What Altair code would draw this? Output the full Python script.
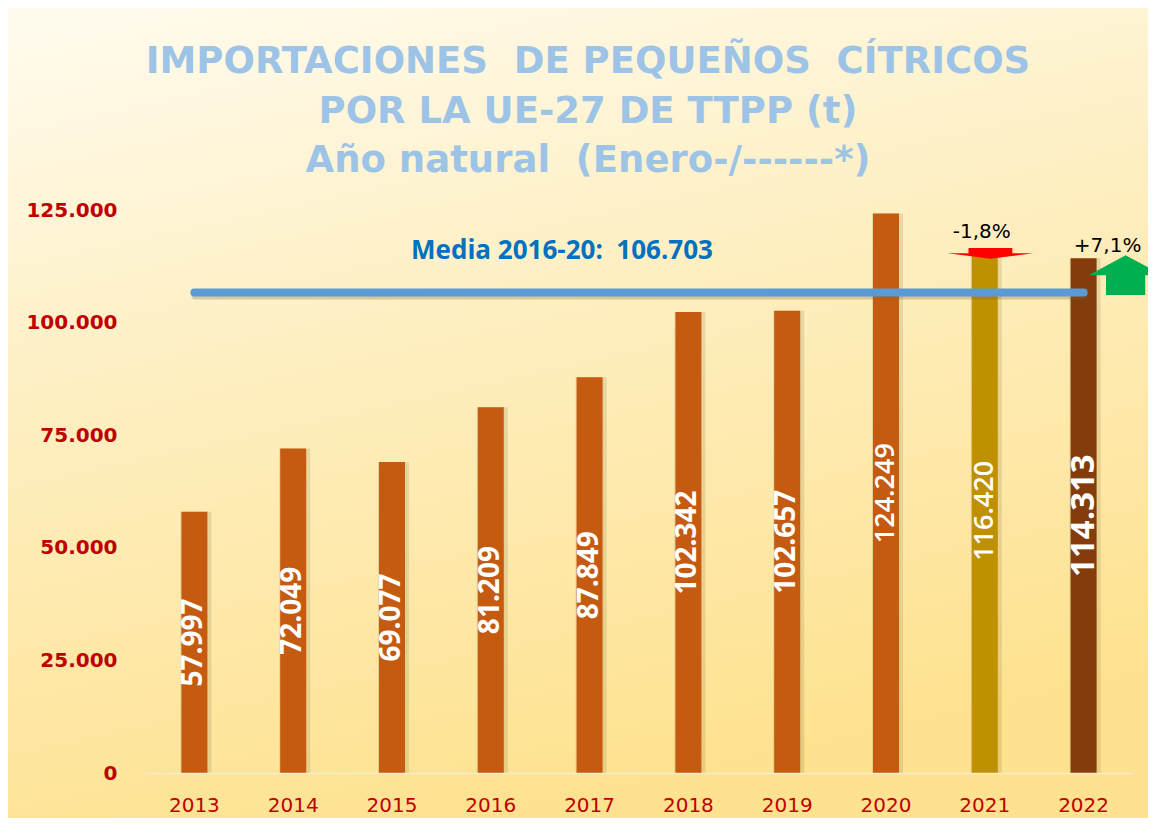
import altair as alt
import pandas as pd

# ---------------- data ----------------
years = ["2013", "2014", "2015", "2016", "2017", "2018", "2019", "2020", "2021", "2022"]
values = [57997, 72049, 69077, 81209, 87849, 102342, 102657, 124249, 116420, 114313]
y_ticks = [0, 25000, 50000, 75000, 100000, 125000]

mean_value = 106703
mean_start, mean_end = "2013", "2022"
mean_label = "Media 2016-20:\u00a0 106.703"

change_years = ["2021", "2022"]
change_labels = ["-1,8%", "+7,1%"]

title_lines = [
    "IMPORTACIONES\u00a0 DE PEQUEÑOS\u00a0 CÍTRICOS",
    "POR LA UE-27 DE TTPP (t)",
    "Año natural\u00a0 (Enero-/------*)",
]

# ---------------- styles ----------------
bar_colors = ["#C55A11"] * 8 + ["#BF9000", "#843C0C"]
RED = "#C00000"
W, H = 988, 563

bars_df = pd.DataFrame({"year": years, "value": values})
val_map = dict(zip(years, values))
change_df = pd.DataFrame({"year": change_years, "label": change_labels,
                          "value": [val_map[y] for y in change_years]})
mean_df = pd.DataFrame({"start": [mean_start], "end": [mean_end],
                        "value": [mean_value], "label": [mean_label]})
one = alt.Data(values=[{"k": 1}])

x_scale = alt.Scale(domain=years, paddingInner=0.5, paddingOuter=0.25)
x_axis = alt.Axis(title=None, labelAngle=0, labelFont="DejaVu Sans", labelFontSize=20,
                  labelColor=RED, labelPadding=22, ticks=False, domain=True,
                  domainColor="#F6ECCB", domainWidth=1.5, grid=False, zindex=1)
y_scale = alt.Scale(domain=[0, 125000], nice=False, zero=True)
y_axis = alt.Axis(title=None, values=y_ticks, labelFont="DejaVu Sans", labelFontSize=20,
                  labelFontWeight="bold", labelColor=RED, labelPadding=28, ticks=False,
                  domain=False, grid=False, zindex=1,
                  labelExpr="datum.value == 0 ? '0' : format(datum.value / 1000, '.3f')")

X = alt.X("year:N", sort=years, scale=x_scale, axis=x_axis)

# background gradient
background = alt.Chart(one).mark_rect(
    fill=alt.LinearGradient(
        gradient="linear", x1=0, y1=0, x2=0.3, y2=1,
        stops=[alt.GradientStop(offset=0, color="#FFFCF1"),
               alt.GradientStop(offset=0.45, color="#FEEFC2"),
               alt.GradientStop(offset=1, color="#FEE290")]),
).encode(x=alt.value(-145), x2=alt.value(W + 30), y=alt.value(-215), y2=alt.value(H + 70))

# title
title_layers = []
title_y = [-137, -87, -38]
for line, ty in zip(title_lines, title_y):
    title_layers.append(alt.Chart(one).mark_text(
        font="DejaVu Sans", fontSize=37, fontWeight="bold", color="#9DC3E6",
        align="center", baseline="alphabetic"
    ).encode(x=alt.value(443), y=alt.value(ty), text=alt.value(line)))

bar_base = alt.Chart(bars_df)
bar_shadow = bar_base.mark_bar(size=31, color="#6B5B2E", opacity=0.16, xOffset=1.5).encode(
    x=X, y=alt.Y("value:Q", scale=y_scale, axis=y_axis))
bars = bar_base.mark_bar(size=26).encode(
    x=X, y=alt.Y("value:Q", scale=y_scale, axis=y_axis),
    color=alt.Color("year:N", scale=alt.Scale(domain=years, range=bar_colors), legend=None))

lab_base = bar_base.transform_calculate(
    half="datum.value / 2", label="format(datum.value / 1000, '.3f')")
lab_enc = dict(x=X, y=alt.Y("half:Q", scale=y_scale, axis=y_axis), text="label:N")
labels_bold = lab_base.transform_filter(
    alt.FieldOneOfPredicate(field="year", oneOf=years[:7])
).mark_text(angle=270, font="Open Sans", fontWeight="bold", fontSize=28, color="white",
            align="center", baseline="middle").encode(**lab_enc)
labels_reg = lab_base.transform_filter(
    alt.FieldOneOfPredicate(field="year", oneOf=years[7:9])
).mark_text(angle=270, font="Open Sans", fontWeight=600, fontSize=27, color="white",
            align="center", baseline="middle").encode(**lab_enc)
labels_big = lab_base.transform_filter(
    alt.FieldOneOfPredicate(field="year", oneOf=years[9:])
).mark_text(angle=270, font="Open Sans", fontWeight="bold", fontSize=33, color="white",
            align="center", baseline="middle").encode(**lab_enc)

# mean line
mean_base = alt.Chart(mean_df)
mean_shadow = mean_base.mark_rule(strokeWidth=8, strokeCap="round", color="#7A6A40",
                                  opacity=0.3, yOffset=3, xOffset=1).encode(
    x=alt.X("start:N", sort=years, scale=x_scale, axis=x_axis), x2="end:N",
    y=alt.Y("value:Q", scale=y_scale, axis=y_axis))
mean_rule = mean_base.mark_rule(strokeWidth=8, strokeCap="round", color="#5B9BD5").encode(
    x=alt.X("start:N", sort=years, scale=x_scale, axis=x_axis), x2="end:N",
    y=alt.Y("value:Q", scale=y_scale, axis=y_axis))
mean_text = mean_base.mark_text(font="Open Sans", fontWeight="bold", fontSize=26,
                                color="#0070C0", align="center", baseline="alphabetic",
                                dy=-33).encode(
    x=alt.value(417), y=alt.Y("value:Q", scale=y_scale, axis=y_axis), text="label:N")

# change annotations
ch = alt.Chart(change_df)
ch_enc = dict(x=X, y=alt.Y("value:Q", scale=y_scale, axis=y_axis))
red_arrow = ch.transform_filter(alt.datum.year == "2021").mark_point(
    shape="M-0.51,-0.12L0.51,-0.12L0.51,0L1,0L0,0.13L-1,0L-0.51,0Z",
    size=7396, filled=True, color="#FF0000", opacity=1, strokeWidth=0,
    xOffset=5.6, yOffset=4.5).encode(**ch_enc)
green_arrow = ch.transform_filter(alt.datum.year == "2022").mark_point(
    shape="M0,-0.54L1,0L0.53,0L0.53,0.54L-0.53,0.54L-0.53,0L-1,0Z",
    size=5476, filled=True, color="#00B050", opacity=1, strokeWidth=0,
    xOffset=42, yOffset=17).encode(**ch_enc)
red_text = ch.transform_filter(alt.datum.year == "2021").mark_text(
    font="DejaVu Sans", fontSize=20, color="black", align="center", baseline="alphabetic",
    dx=-3, dy=-10.5).encode(text="label:N", **ch_enc)
green_text = ch.transform_filter(alt.datum.year == "2022").mark_text(
    font="DejaVu Sans", fontSize=20, color="black", align="center", baseline="alphabetic",
    dx=24, dy=-6.5).encode(text="label:N", **ch_enc)

chart = alt.layer(
    background, *title_layers, bar_shadow, bars, labels_bold, labels_reg, labels_big,
    mean_shadow, mean_rule, mean_text, red_arrow, green_arrow, red_text, green_text
).properties(
    width=W, height=H,
    autosize=alt.AutoSizeParams(type="none"),
    padding={"left": 137, "top": 202, "right": 15, "bottom": 45},
    background="#FEF0C4",
).configure_view(stroke=None)

chart.save("out.html", embed_options={"renderer": "svg", "actions": False})
